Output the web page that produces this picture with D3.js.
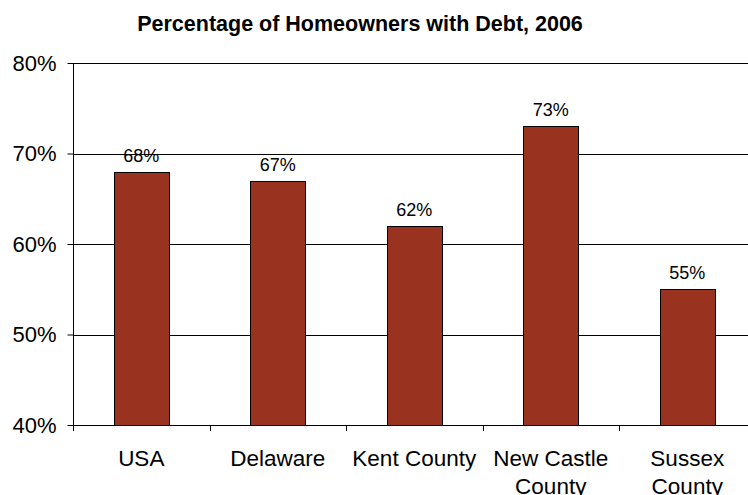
<!DOCTYPE html>
<html>
<head>
<meta charset="utf-8">
<script src="https://cdn.jsdelivr.net/npm/d3@7"></script>
<style>
  html, body { margin: 0; padding: 0; background: #fff; }
  svg { display: block; font-family: "Liberation Sans", Arial, sans-serif; }
</style>
</head>
<body>
<svg id="chart" width="748" height="495"></svg>
<script>
// Share of homeowners carrying debt, 2006
const categories = [["USA"], ["Delaware"], ["Kent County"], ["New Castle", "County"], ["Sussex", "County"]];
const values = [68, 67, 62, 73, 55];
const yTicks = [40, 50, 60, 70, 80];
const title = "Percentage of Homeowners with Debt, 2006";

const svg = d3.select("#chart");
const margin = { left: 73, top: 63, bottom: 425 };
const plotRight = 755.5;

const x = d3.scaleBand()
  .domain(d3.range(categories.length))
  .range([margin.left, plotRight])
  .paddingInner(0.597)
  .paddingOuter(0.2985);

const y = d3.scaleLinear().domain([40, 80]).range([margin.bottom, margin.top]);

// Title
svg.append("text")
  .attr("x", 360).attr("y", 31)
  .attr("text-anchor", "middle")
  .attr("font-size", 21.5).attr("font-weight", "bold")
  .text(title);

// Horizontal gridlines
svg.append("g").selectAll("line")
  .data(yTicks.slice(1))
  .join("line")
  .attr("x1", margin.left).attr("x2", 748)
  .attr("y1", d => Math.round(y(d)) + 0.5).attr("y2", d => Math.round(y(d)) + 0.5)
  .attr("stroke", "#000").attr("stroke-width", 1);

// Bars
svg.append("g").selectAll("rect")
  .data(values)
  .join("rect")
  .attr("x", (d, i) => Math.round(x(i)) + 0.5)
  .attr("y", d => Math.round(y(d)) + 0.5)
  .attr("width", x.bandwidth())
  .attr("height", d => Math.round(y(40)) - Math.round(y(d)))
  .attr("fill", "#993320")
  .attr("stroke", "#000").attr("stroke-width", 1);

// Value labels
svg.append("g").selectAll("text")
  .data(values)
  .join("text")
  .attr("x", (d, i) => x(i) + x.bandwidth() / 2)
  .attr("y", d => y(d) - 10)
  .attr("text-anchor", "middle")
  .attr("font-size", 18)
  .text(d => d + "%");

// Y axis
const yAxis = d3.axisLeft(y).tickValues(yTicks).tickFormat(d => d + "%").tickSize(6).tickPadding(11);
const yg = svg.append("g").attr("transform", `translate(${margin.left + 0.5},0)`).call(yAxis);
yg.select(".domain").attr("d", `M0,${margin.top}V${margin.bottom + 0.5}`).attr("stroke", "#000");
yg.selectAll(".tick text").attr("font-size", 22).attr("font-family", null).attr("fill", "#000");
yg.selectAll(".tick line").attr("stroke", "#000");

// X axis baseline with ticks at category boundaries
const xg = svg.append("g");
xg.append("line")
  .attr("x1", margin.left).attr("x2", 748)
  .attr("y1", Math.round(y(40)) + 0.5).attr("y2", Math.round(y(40)) + 0.5)
  .attr("stroke", "#000");
const step = x.step();
xg.selectAll("line.tk")
  .data(d3.range(categories.length + 1))
  .join("line").attr("class", "tk")
  .attr("x1", i => Math.round(margin.left + i * step) + 0.5)
  .attr("x2", i => Math.round(margin.left + i * step) + 0.5)
  .attr("y1", Math.round(y(40))).attr("y2", Math.round(y(40)) + 6)
  .attr("stroke", "#000");

// Category labels
const lab = xg.selectAll("text.cat")
  .data(categories)
  .join("text").attr("class", "cat")
  .attr("text-anchor", "middle")
  .attr("font-size", 22.5)
  .attr("transform", (d, i) => `translate(${x(i) + x.bandwidth() / 2},466)`);
lab.selectAll("tspan")
  .data(d => d)
  .join("tspan")
  .attr("x", 0)
  .attr("y", (d, j) => j * 28)
  .text(d => d);
</script>
</body>
</html>
